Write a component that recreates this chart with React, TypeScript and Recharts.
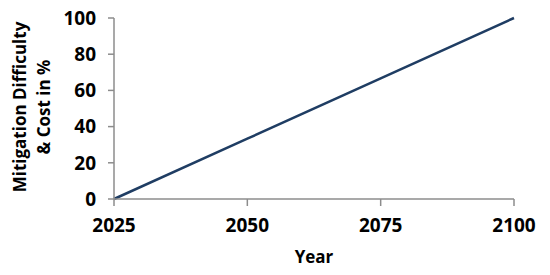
import { LineChart, Line, XAxis, YAxis } from 'recharts'

const years = [2025, 2050, 2075, 2100]
const difficulty = [0, 33.3, 66.7, 100]
const xTicks = [2025, 2050, 2075, 2100]
const yTicks = [0, 20, 40, 60, 80, 100]

const data = years.map((year, i) => ({ year, value: difficulty[i] }))

const font = '"Open Sans", "Liberation Sans", sans-serif'
const tickStyle = { fontSize: 19, fontWeight: 700, fill: '#000', fontFamily: font }
const labelStyle = { ...tickStyle, fontSize: 17 }

function YLabel() {
  return (
    <g transform="translate(32, 107) rotate(-90)">
      <text textAnchor="middle" x={0} y={-6} style={labelStyle}>Mitigation Difficulty</text>
      <text textAnchor="middle" x={0} y={18} style={labelStyle}>&amp; Cost in %</text>
    </g>
  )
}

export default function App() {
  return (
    <div style={{ position: 'absolute', left: 0, top: 0, width: 550, height: 275, background: '#fff' }}>
      <LineChart width={550} height={275} data={data} margin={{ top: 18, right: 36, bottom: 0, left: 0 }}>
        <XAxis
          dataKey="year"
          type="number"
          domain={[2025, 2100]}
          ticks={xTicks}
          height={76}
          tick={tickStyle}
          tickSize={7}
          tickMargin={13}
          stroke="#8c8c8c"
          strokeWidth={1.5}
          label={{ value: 'Year', position: 'insideBottom', offset: 12, style: labelStyle }}
        />
        <YAxis
          type="number"
          domain={[0, 100]}
          ticks={yTicks}
          width={114}
          tick={tickStyle}
          tickSize={6}
          tickMargin={12}
          stroke="#8c8c8c"
          strokeWidth={1.5}
          label={<YLabel />}
        />
        <Line
          type="linear"
          dataKey="value"
          stroke="#1f3d63"
          strokeWidth={2.5}
          dot={false}
          isAnimationActive={false}
        />
      </LineChart>
    </div>
  )
}
